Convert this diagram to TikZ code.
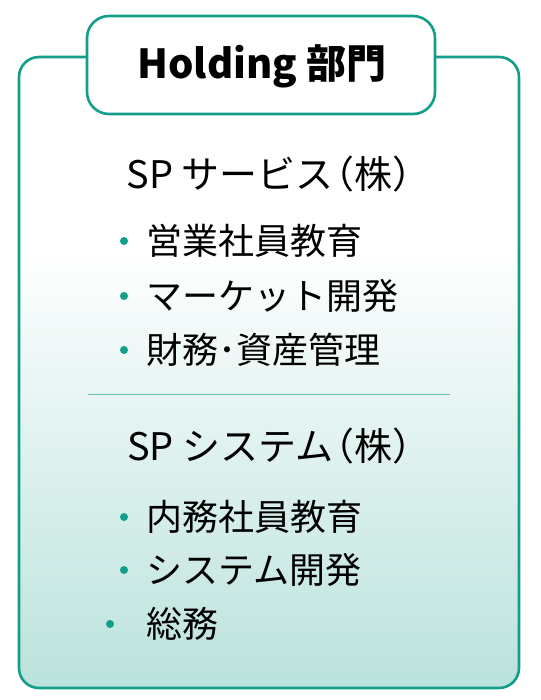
\documentclass[tikz,border=0pt]{standalone}
\usepackage{fontspec}
\setmainfont{Noto Sans CJK JP}
\usepackage{tikz}
\usetikzlibrary{positioning}
\definecolor{spteal}{HTML}{129e8b}
\definecolor{splight}{HTML}{bbe2dc}
\definecolor{spline}{HTML}{5cc3b4}
\pgfdeclareverticalshading{spshade}{100bp}{color(0bp)=(splight); color(25bp)=(splight); color(60bp)=(white); color(100bp)=(white)}
\newcommand{\kabu}{\kern-0.45em（株）\kern-0.45em}

\begin{document}
\begin{tikzpicture}[x=1pt, y=-1pt,
  frame/.style={draw=spteal, line width=2.6pt, rounded corners=20pt},
  head/.style={font=\fontsize{38}{42}\selectfont, inner sep=0pt},
  item/.style={font=\fontsize{36}{42}\selectfont, anchor=west, inner sep=0pt},
  dot/.style={circle, fill=spteal, inner sep=0pt, minimum size=8pt}]
\useasboundingbox (0,0) rectangle (540,700);
\draw[frame, shading=spshade] (19,57) rectangle (519,688);
\draw[frame, fill=white, rounded corners=22pt] (87,16) rectangle (435,114);
\node[font=\fontsize{40}{46}\selectfont\bfseries, inner sep=0pt] (title) at (262,66) {Holding 部門};
% SP サービス
\node[head] (svc) at (270,174) {SP サービス\kabu};
\node[dot] (d1) at (124,241) {}; \node[item] (s1) at (146,241) {営業社員教育};
\node[dot] (d2) at (124,296) {}; \node[item] (s2) at (146,296) {マーケット開発};
\node[dot] (d3) at (124,350) {}; \node[item] (s3) at (146,350) {財務･資産管理};
\coordinate (divl) at (88,394); \coordinate (divr) at (450,394);
\draw[spline, line width=1pt] (divl) -- (divr);
% SP システム
\node[head] (sys) at (270,446) {SP システム\kabu};
\node[dot] (e1) at (124,517) {}; \node[item] (t1) at (146,517) {内務社員教育};
\node[dot] (e2) at (124,570) {}; \node[item] (t2) at (146,570) {システム開発};
\node[dot] (e3) at (110,624) {}; \node[item] (t3) at (146,624) {総務};
\end{tikzpicture}
\end{document}
